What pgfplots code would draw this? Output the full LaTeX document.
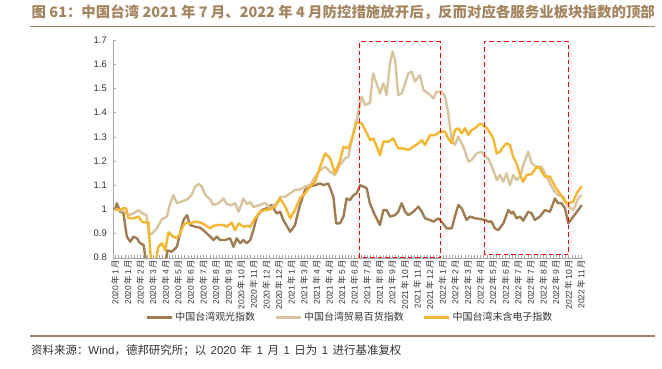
\documentclass[border=0pt]{standalone}
\usepackage{fontspec}
\setmainfont{Liberation Sans}
\newfontfamily\cjk{Noto Sans CJK SC}
\usepackage{pgfplots}
\pgfplotsset{compat=1.18}
\definecolor{cbrown}{HTML}{A07C52}
\definecolor{ctan}{HTML}{D8C49E}
\definecolor{cgold}{HTML}{F5B731}
\definecolor{ctitle}{HTML}{A4845E}
\definecolor{caxis}{HTML}{A6A6A6}
\definecolor{ctext}{HTML}{333333}
\newcommand{\ym}[2]{#1\,{\cjk 年}\,#2\,{\cjk 月}}
\newcommand{\gsp}{\hspace{4.5bp}}
\begin{document}
\begin{tikzpicture}[x=1bp,y=1bp]
\useasboundingbox (0,0) rectangle (662,368);
\node[anchor=west, text=ctitle, font=\cjk\bfseries\fontsize{14.5}{16}\selectfont, inner sep=0] at (31.5,355.3) {图 61：中国台湾 2021 年 7 月、2022 年 4 月防控措施放开后，反而对应各服务业板块指数的顶部};
\draw[ctitle, line width=1.5bp] (29.5,341.5) -- (655,341.5);
\draw[ctitle, line width=1.5bp] (29.5,32) -- (655,32);
\node[anchor=west, text=ctext, font=\fontsize{11.5}{12}\selectfont, inner sep=0] at (31,17) {{\cjk 资料来源：}Wind{\cjk ，德邦研究所；以}\gsp 2020\gsp{\cjk 年}\gsp 1\gsp{\cjk 月}\gsp 1\gsp{\cjk 日为}\gsp 1\gsp{\cjk 进行基准复权}};
\begin{axis}[
  at={(113.3bp,110.3bp)}, anchor=south west,
  scale only axis, width=469.7bp, height=217.7bp,
  xmin=-0.6, xmax=148.6, ymin=0.8, ymax=1.7,
  axis lines*=left, axis line style={caxis,-},
  tick style={caxis}, tick align=inside,
  major tick length=3bp, minor tick length=3bp,
  xtick={0,4,...,148}, minor x tick num=3,
  xticklabels={\ym{2020}{1},\ym{2020}{1},\ym{2020}{2},\ym{2020}{3},\ym{2020}{4},\ym{2020}{5},\ym{2020}{6},\ym{2020}{7},\ym{2020}{8},\ym{2020}{9},\ym{2020}{10},\ym{2020}{11},\ym{2020}{12},\ym{2020}{12},\ym{2021}{1},\ym{2021}{3},\ym{2021}{4},\ym{2021}{4},\ym{2021}{5},\ym{2021}{6},\ym{2021}{7},\ym{2021}{8},\ym{2021}{9},\ym{2021}{10},\ym{2021}{11},\ym{2021}{12},\ym{2022}{1},\ym{2022}{2},\ym{2022}{3},\ym{2022}{4},\ym{2022}{5},\ym{2022}{6},\ym{2022}{7},\ym{2022}{7},\ym{2022}{8},\ym{2022}{9},\ym{2022}{10},\ym{2022}{11}},
  xticklabel style={rotate=90, anchor=east, font=\fontsize{8.5}{9}\selectfont, text=ctext, inner sep=2bp},
  ytick={0.8,0.9,1,1.1,1.2,1.3,1.4,1.5,1.6,1.7},
  yticklabels={0.8,0.9,1,1.1,1.2,1.3,1.4,1.5,1.6,1.7},
  yticklabel style={font=\fontsize{9.5}{10}\selectfont, text=ctext, xshift=-3bp},
  clip mode=individual,
  legend columns=3,
  legend style={draw=none, fill=none, at={(0.068,-0.2724)}, anchor=west, inner sep=0pt,
    font=\cjk\fontsize{10}{12}\selectfont, text=ctext,
    /tikz/every even column/.append style={column sep=17bp}},
  legend image code/.code={\draw[#1, line width=3bp] (0bp,0bp) -- (25bp,0bp);},
  every axis plot/.append style={line width=2.4bp, line join=round},
]
\addplot[cbrown] coordinates {
(0,1.000)(0.5,1.025)(1.6,0.990)(2.6,0.986)(3.7,0.887)(4.8,0.866)(5.8,0.887)(6.9,0.880)(7.9,0.860)(9.0,0.853)(9.5,0.810)(10.2,0.760)(12,0.740)(14,0.740)(15.9,0.760)(16.6,0.830)(18.0,0.825)(19.6,0.845)(20.6,0.900)(21.7,0.956)(22.8,0.976)(23.8,0.935)(25.4,0.928)(27.0,0.924)(28.6,0.907)(30.2,0.887)(31.2,0.873)(32.3,0.887)(33.3,0.873)(34.9,0.873)(36.5,0.880)(37.6,0.845)(38.6,0.880)(39.7,0.860)(40.7,0.873)(41.8,0.860)(42.9,0.873)(43.9,0.914)(45.0,0.970)(46.6,0.997)(48.1,1.004)(49.7,1.018)(51.3,0.983)(52.4,0.990)(53.4,0.956)(55.6,0.907)(57.1,0.935)(58.7,1.018)(60.3,1.080)(61.9,1.094)(63.5,1.100)(65.1,1.107)(66.1,1.100)(67.7,1.107)(69.3,1.052)(70.2,0.942)(71.4,0.942)(72.5,0.970)(73.5,1.045)(74.6,1.038)(75.7,1.059)(76.7,1.066)(77.8,1.100)(78.8,1.094)(79.9,1.087)(80.9,1.025)(82.5,0.976)(84.1,0.935)(85.2,0.997)(86.2,0.997)(87.3,0.970)(88.9,0.976)(89.9,0.990)(91.0,1.025)(92.1,0.990)(93.1,0.976)(94.7,0.990)(96.3,1.011)(97.4,0.990)(98.4,0.963)(100.0,0.956)(101.1,0.949)(102.6,0.963)(103.7,0.949)(105.3,0.921)(106.9,0.921)(107.9,0.970)(109.0,1.018)(110.1,1.004)(111.6,0.956)(112.7,0.970)(114.3,0.963)(115.9,0.960)(117.5,0.956)(118.5,0.949)(119.6,0.949)(120.6,0.921)(121.7,0.914)(123.3,0.942)(124.9,0.997)(125.9,0.983)(126.4,0.990)(127.5,0.963)(128.6,0.970)(129.6,0.953)(131.2,0.990)(132.3,0.983)(133.3,0.956)(134.9,0.970)(136.5,0.997)(138.1,0.990)(139.7,1.045)(140.7,1.025)(141.8,1.025)(142.9,1.004)(143.9,0.942)(145.5,0.970)(147.1,0.997)(148.2,1.018)
};
\addlegendentry{中国台湾观光指数}
\addplot[ctan] coordinates {
(0,1.000)(1.1,0.997)(2.6,0.993)(4.2,0.976)(5.8,0.983)(7.4,0.997)(9.0,0.980)(10.0,0.976)(10.6,0.898)(11.6,0.898)(13.2,0.921)(14.8,0.958)(16.4,0.970)(17.5,1.025)(18.5,1.059)(19.6,1.025)(20.6,1.030)(22.8,1.040)(24.3,1.060)(25.4,1.094)(26.5,1.105)(27.5,1.094)(28.6,1.060)(30.2,1.040)(31.2,1.018)(32.8,1.025)(34.4,1.045)(35.4,1.022)(37.0,1.018)(38.1,1.025)(39.2,0.990)(40.2,1.025)(40.7,1.045)(41.8,1.022)(42.9,1.030)(43.9,1.010)(46.0,1.018)(47.6,1.027)(49.2,1.004)(51.3,1.025)(52.4,1.052)(54.0,1.052)(55.6,1.066)(57.1,1.080)(58.7,1.082)(60.3,1.094)(61.9,1.100)(63.5,1.135)(65.1,1.162)(66.7,1.176)(68.3,1.155)(69.8,1.142)(71.4,1.183)(73.0,1.210)(74.1,1.218)(75.1,1.286)(76.7,1.370)(78.3,1.466)(79.4,1.431)(80.9,1.440)(81.9,1.562)(83.0,1.521)(84.1,1.479)(85.2,1.521)(86.2,1.473)(87.3,1.604)(88.1,1.652)(88.9,1.617)(89.9,1.473)(91.0,1.479)(92.1,1.521)(93.1,1.562)(94.2,1.569)(95.2,1.528)(96.8,1.555)(97.9,1.493)(99.5,1.479)(101.1,1.459)(102.1,1.486)(103.7,1.486)(104.8,1.466)(105.8,1.397)(106.9,1.286)(107.9,1.266)(109.0,1.300)(110.6,1.259)(112.2,1.197)(113.2,1.204)(114.8,1.231)(116.4,1.238)(117.5,1.218)(118.5,1.211)(120.1,1.162)(121.2,1.121)(122.2,1.142)(123.3,1.114)(124.3,1.149)(125.4,1.100)(126.4,1.142)(127.5,1.121)(128.6,1.135)(129.6,1.183)(131.2,1.238)(132.3,1.190)(133.9,1.176)(135.4,1.176)(137.0,1.135)(139.2,1.080)(140.7,1.059)(142.3,1.052)(143.9,1.011)(145.5,0.997)(147.1,1.045)(148.2,1.059)
};
\addlegendentry{中国台湾贸易百货指数}
\addplot[cgold] coordinates {
(0,1.000)(1.1,0.997)(2.6,1.004)(3.5,1.004)(4.2,0.963)(5.8,0.963)(7.4,0.970)(8.5,0.949)(9.5,0.946)(10.6,0.946)(11.1,0.830)(11.6,0.770)(12.7,0.770)(13.7,0.845)(14.8,0.860)(15.9,0.830)(16.9,0.905)(18.5,0.887)(19.6,0.880)(20.6,0.900)(21.7,0.935)(22.8,0.945)(23.8,0.942)(25.4,0.949)(27.0,0.946)(28.6,0.935)(30.2,0.921)(31.2,0.932)(32.8,0.935)(34.4,0.935)(35.4,0.928)(37.0,0.945)(38.1,0.914)(39.2,0.942)(40.7,0.928)(41.8,0.932)(42.9,0.928)(44.4,0.963)(46.0,0.990)(47.6,0.997)(49.2,1.000)(50.8,1.011)(52.4,1.045)(54.0,1.011)(55.6,0.963)(57.1,0.997)(58.7,1.045)(60.3,1.066)(61.9,1.094)(63.5,1.114)(65.1,1.176)(66.7,1.231)(68.3,1.211)(69.8,1.149)(71.4,1.200)(72.5,1.259)(74.1,1.252)(75.1,1.286)(76.7,1.362)(78.3,1.355)(79.4,1.328)(81.0,1.286)(82.0,1.293)(83.1,1.259)(84.1,1.224)(85.2,1.280)(86.8,1.280)(88.3,1.293)(89.9,1.252)(91.5,1.252)(93.1,1.245)(94.7,1.259)(96.3,1.273)(97.4,1.286)(98.4,1.266)(100.0,1.307)(101.6,1.307)(103.2,1.321)(104.8,1.321)(105.8,1.293)(106.9,1.273)(107.9,1.328)(109.0,1.335)(110.1,1.314)(111.1,1.335)(112.2,1.307)(113.2,1.328)(114.3,1.335)(115.9,1.355)(117.5,1.342)(118.5,1.328)(120.1,1.293)(121.2,1.231)(122.2,1.238)(123.3,1.259)(124.3,1.273)(125.4,1.266)(126.4,1.218)(127.5,1.190)(128.6,1.142)(129.6,1.114)(130.7,1.142)(132.3,1.146)(133.9,1.176)(134.9,1.169)(136.5,1.135)(138.1,1.135)(139.7,1.094)(141.3,1.066)(142.9,1.032)(143.9,1.025)(145.5,1.032)(146.6,1.066)(148.2,1.096)
};
\addlegendentry{中国台湾未含电子指数}
\draw[red, line width=1.1bp, dash pattern=on 4.5bp off 3bp] (axis cs:77.6,0.8) rectangle (axis cs:103.2,1.692);
\draw[red, line width=1.1bp, dash pattern=on 4.5bp off 3bp] (axis cs:117.2,0.814) rectangle (axis cs:144.1,1.692);
\end{axis}
\end{tikzpicture}
\end{document}
